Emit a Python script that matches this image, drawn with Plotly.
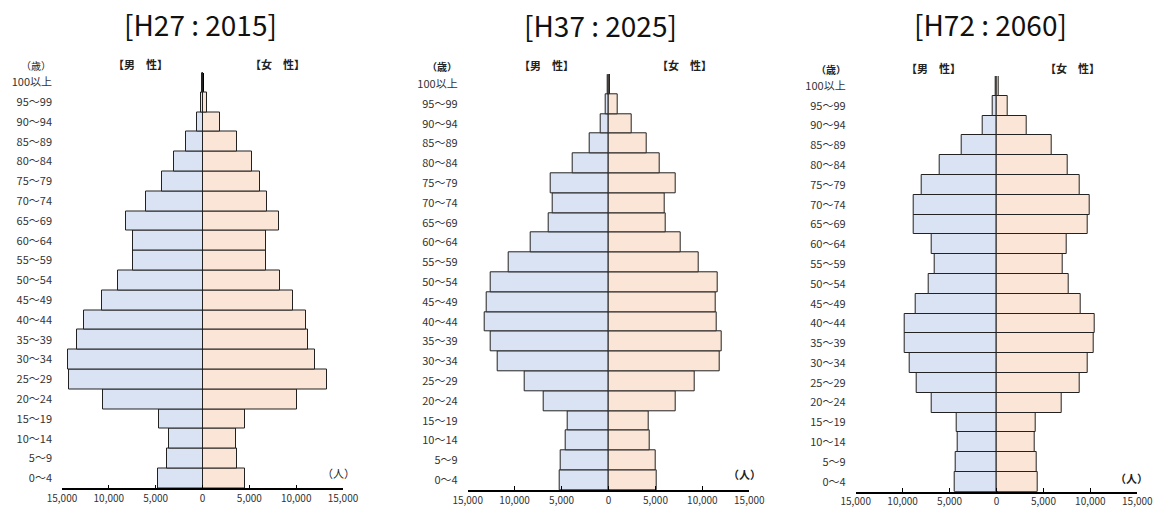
import plotly.graph_objects as go

# ---------------- data ----------------
ages = ["0～4", "5～9", "10～14", "15～19", "20～24", "25～29", "30～34", "35～39",
        "40～44", "45～49", "50～54", "55～59", "60～64", "65～69", "70～74", "75～79",
        "80～84", "85～89", "90～94", "95～99", "100以上"]

titles = ["[H27 : 2015]", "[H37 : 2025]", "[H72 : 2060]"]

male_2015 = [4790, 3830, 3620, 4680, 10640, 14290, 14330, 13440, 12620, 10780, 9000,
             7450, 7380, 8190, 6030, 4290, 3090, 1740, 600, 150, 20]
female_2015 = [4570, 3690, 3580, 4500, 10070, 13330, 11990, 11240, 11100, 9680, 8260,
               6740, 6770, 8160, 6840, 6170, 5280, 3690, 1840, 530, 90]

male_2025 = [5220, 5080, 4610, 4370, 6920, 8910, 11790, 12570, 13240, 12990, 12600,
             10580, 8310, 6350, 5930, 6140, 3800, 2020, 850, 250, 40]
female_2025 = [5150, 5080, 4440, 4300, 7140, 9160, 11860, 12030, 11540, 11430, 11610,
               9620, 7700, 6140, 6000, 7140, 5500, 4120, 2520, 960, 160]

male_2060 = [4470, 4370, 4150, 4260, 6890, 8520, 9270, 9730, 9830, 8660, 7240,
             6600, 6920, 8770, 8840, 8020, 6070, 3730, 1490, 430, 60]
female_2060 = [4440, 4330, 4120, 4220, 6990, 8910, 9760, 10370, 10470, 9020, 7700,
               7100, 7450, 9760, 9980, 8910, 7560, 5890, 3230, 1140, 200]

x_tick_vals = [-15000, -10000, -5000, 0, 5000, 10000, 15000]
x_tick_text = ["15,000", "10,000", "5,000", "0", "5,000", "10,000", "15,000"]

male_series = [male_2015, male_2025, male_2060]
female_series = [female_2015, female_2025, female_2060]

# ---------------- styling ----------------
W, H = 1155, 509
FONT = "Noto Sans CJK JP"
TITLE_FONT = "Liberation Sans Narrow, Noto Sans CJK JP"
MALE_FILL = "#DAE3F3"
FEMALE_FILL = "#FBE5D6"
EDGE = "#222222"

# pixel layout of each panel: (x_left, x_right, y_top, y_bottom)
panels_px = [(62, 343, 72.5, 488.3), (467.7, 749.3, 74.3, 490.0), (855.7, 1137.3, 76.0, 491.7)]

fig = go.Figure()

for i in range(3):
    xa = "x" if i == 0 else f"x{i+1}"
    ya = "y" if i == 0 else f"y{i+1}"
    fig.add_trace(go.Bar(
        y=ages, x=[-v for v in male_series[i]], orientation="h",
        xaxis=xa, yaxis=ya,
        marker=dict(color=MALE_FILL, line=dict(color=EDGE, width=1)),
        showlegend=False, hoverinfo="skip"))
    fig.add_trace(go.Bar(
        y=ages, x=female_series[i], orientation="h",
        xaxis=xa, yaxis=ya,
        marker=dict(color=FEMALE_FILL, line=dict(color=EDGE, width=1)),
        showlegend=False, hoverinfo="skip"))

layout = dict(
    width=W, height=H, autosize=False,
    margin=dict(l=0, r=0, t=0, b=0, pad=0, autoexpand=False),
    paper_bgcolor="white", plot_bgcolor="white",
    barmode="relative", bargap=0,
    font=dict(family=FONT, size=11, color="#333333"),
    showlegend=False,
)

for i, (xl, xr, yt, yb) in enumerate(panels_px):
    xkey = "xaxis" if i == 0 else f"xaxis{i+1}"
    ykey = "yaxis" if i == 0 else f"yaxis{i+1}"
    yref = "y" if i == 0 else f"y{i+1}"
    xref = "x" if i == 0 else f"x{i+1}"
    layout[xkey] = dict(
        domain=[xl / W, xr / W], anchor=yref, automargin=False,
        range=[-15000, 15000], tickvals=x_tick_vals, ticktext=x_tick_text,
        showgrid=False, showline=True, linecolor="black", linewidth=1.5,
        ticks="inside", ticklen=4, tickcolor="black", tickwidth=1,
        zeroline=True, zerolinecolor="black", zerolinewidth=2,
        tickfont=dict(family=FONT, size=10, color="#333333"),
        fixedrange=True,
    )
    layout[ykey] = dict(
        domain=[1 - yb / H, 1 - yt / H], anchor=xref, automargin=False,
        type="category", categoryorder="array", categoryarray=ages,
        range=[-0.5, 20.5], showgrid=False, showline=False, zeroline=False,
        ticks="", ticklabelstandoff=9,
        tickfont=dict(family=FONT, size=11, color="#333333"),
        fixedrange=True,
    )

fig.update_layout(**layout)

# ---------------- annotations ----------------
def ann(text, px, py, size=11, bold=False, xanchor="center"):
    t = f"<b>{text}</b>" if bold else text
    fig.add_annotation(text=t, x=px / W, y=1 - py / H, xref="paper", yref="paper",
                       showarrow=False, xanchor=xanchor, yanchor="middle",
                       font=dict(family=FONT, size=size, color="#222222"))

title_px = [(200, 24), (600, 25), (990, 24)]
for t, (px, py) in zip(titles, title_px):
    fig.add_annotation(text=t, x=px / W, y=1 - py / H, xref="paper", yref="paper",
                       showarrow=False, xanchor="center", yanchor="middle",
                       font=dict(family=TITLE_FONT, size=28, color="#111111"))

ann("（歳）", 53, 65, size=10, xanchor="right")
ann("【男　性】", 140, 64, size=11, bold=True)
ann("【女　性】", 277, 64, size=11, bold=True)
ann("（人）", 338, 473, size=11)

ann("（歳）", 459, 67, size=10, bold=True, xanchor="right")
ann("【男　性】", 546, 65, size=11, bold=True)
ann("【女　性】", 684, 65, size=11, bold=True)
ann("（人）", 744, 474, size=11, bold=True)

ann("（歳）", 848, 70, size=10, bold=True, xanchor="right")
ann("【男　性】", 933, 68, size=11, bold=True)
ann("【女　性】", 1072, 68, size=11, bold=True)
ann("（人）", 1131, 478, size=11, bold=True)

fig.write_html(
    "out.html",
    config={"displayModeBar": False},
    post_script="document.body.style.margin='0';document.body.style.overflow='hidden';",
)
